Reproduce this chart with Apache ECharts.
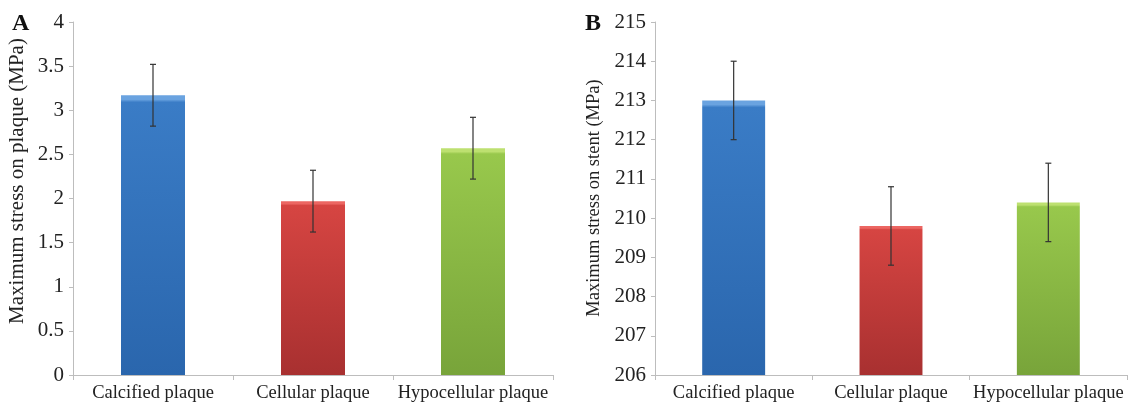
<!DOCTYPE html>
<html lang="en">
<head>
<meta charset="utf-8">
<script src="https://cdn.jsdelivr.net/npm/echarts@6/dist/echarts.min.js"></script>
<style>
  html, body { margin: 0; padding: 0; background: #fff; }
  #main { width: 1128px; height: 405px; }
</style>
</head>
<body>
<div id="main"></div>
<script>
    // categories and values
    var categories = ['Calcified plaque', 'Cellular plaque', 'Hypocellular plaque'];
    var plaqueStress = [3.17, 1.97, 2.57];
    var plaqueErr = [0.35, 0.35, 0.35];
    var stentStress = [213.0, 209.8, 210.4];
    var stentErr = [1.0, 1.0, 1.0];

    var barColors = [
        ['#6aa3e0', '#3a7cc6', '#2a66ad'],
        ['#ec6662', '#d64542', '#a83030'],
        ['#bde070', '#98c84c', '#78a43a']
    ];
    var font = 'Liberation Serif';

    function barData(values) {
        return values.map(function (v, i) {
            var c = barColors[i];
            return {
                value: v,
                itemStyle: {
                    color: new echarts.graphic.LinearGradient(0, 0, 0, 1, [
                        {offset: 0, color: c[0]},
                        {offset: 0.015, color: c[0]},
                        {offset: 0.025, color: c[1]},
                        {offset: 1, color: c[2]}
                    ])
                }
            };
        });
    }

    function errData(values, errs) {
        return values.map(function (v, i) { return [i, v - errs[i], v + errs[i]]; });
    }

    function renderErr(params, api) {
        var lo = api.coord([api.value(0), api.value(1)]);
        var hi = api.coord([api.value(0), api.value(2)]);
        var st = {stroke: '#333', lineWidth: 1.2};
        var w = 3;
        return {
            type: 'group',
            children: [
                {type: 'line', shape: {x1: hi[0], y1: hi[1], x2: lo[0], y2: lo[1]}, style: st},
                {type: 'line', shape: {x1: hi[0] - w, y1: hi[1], x2: hi[0] + w, y2: hi[1]}, style: st},
                {type: 'line', shape: {x1: lo[0] - w, y1: lo[1], x2: lo[0] + w, y2: lo[1]}, style: st}
            ]
        };
    }

    function yAxis(gridIndex, min, max, interval) {
        return {
            type: 'value', gridIndex: gridIndex, min: min, max: max, interval: interval,
            axisLine: {show: true, lineStyle: {color: '#bdbdbd'}},
            axisTick: {show: true, length: 4, lineStyle: {color: '#bdbdbd'}},
            axisLabel: {fontFamily: font, fontSize: 21, color: '#222', margin: 9},
            splitLine: {show: false}
        };
    }

    function xAxis(gridIndex) {
        return {
            type: 'category', gridIndex: gridIndex, data: categories,
            axisLine: {lineStyle: {color: '#bdbdbd'}},
            axisTick: {show: true, length: 5, lineStyle: {color: '#bdbdbd'}},
            axisLabel: {interval: 0, fontFamily: font, fontSize: 18.5, color: '#222', margin: 9}
        };
    }

    function sideLabel(text, x, y, size) {
        return {
            type: 'text', x: x, y: y, rotation: Math.PI / 2,
            style: {text: text, font: size + 'px "Liberation Serif"', fill: '#222',
                    textAlign: 'center', textVerticalAlign: 'middle'}
        };
    }

    var myChart = echarts.init(document.getElementById('main'));
    myChart.setOption({
        animation: false,
        graphic: [
            {type: 'text', left: 12, top: 12, style: {text: 'A', font: 'bold 24px "Liberation Serif"', fill: '#111'}},
            {type: 'text', left: 585, top: 12, style: {text: 'B', font: 'bold 24px "Liberation Serif"', fill: '#111'}},
            sideLabel('Maximum stress on plaque (MPa)', 17, 181, 21),
            sideLabel('Maximum stress on stent (MPa)', 594, 198, 18.5)
        ],
        grid: [
            {left: 73, top: 22, width: 480, height: 353},
            {left: 655, top: 22, width: 472, height: 353}
        ],
        xAxis: [xAxis(0), xAxis(1)],
        yAxis: [yAxis(0, 0, 4, 0.5), yAxis(1, 206, 215, 1)],
        series: [
            {type: 'bar', xAxisIndex: 0, yAxisIndex: 0, barWidth: '40%', data: barData(plaqueStress)},
            {type: 'custom', xAxisIndex: 0, yAxisIndex: 0, renderItem: renderErr, data: errData(plaqueStress, plaqueErr), z: 5},
            {type: 'bar', xAxisIndex: 1, yAxisIndex: 1, barWidth: '40%', data: barData(stentStress)},
            {type: 'custom', xAxisIndex: 1, yAxisIndex: 1, renderItem: renderErr, data: errData(stentStress, stentErr), z: 5}
        ]
    });
</script>
</body>
</html>
